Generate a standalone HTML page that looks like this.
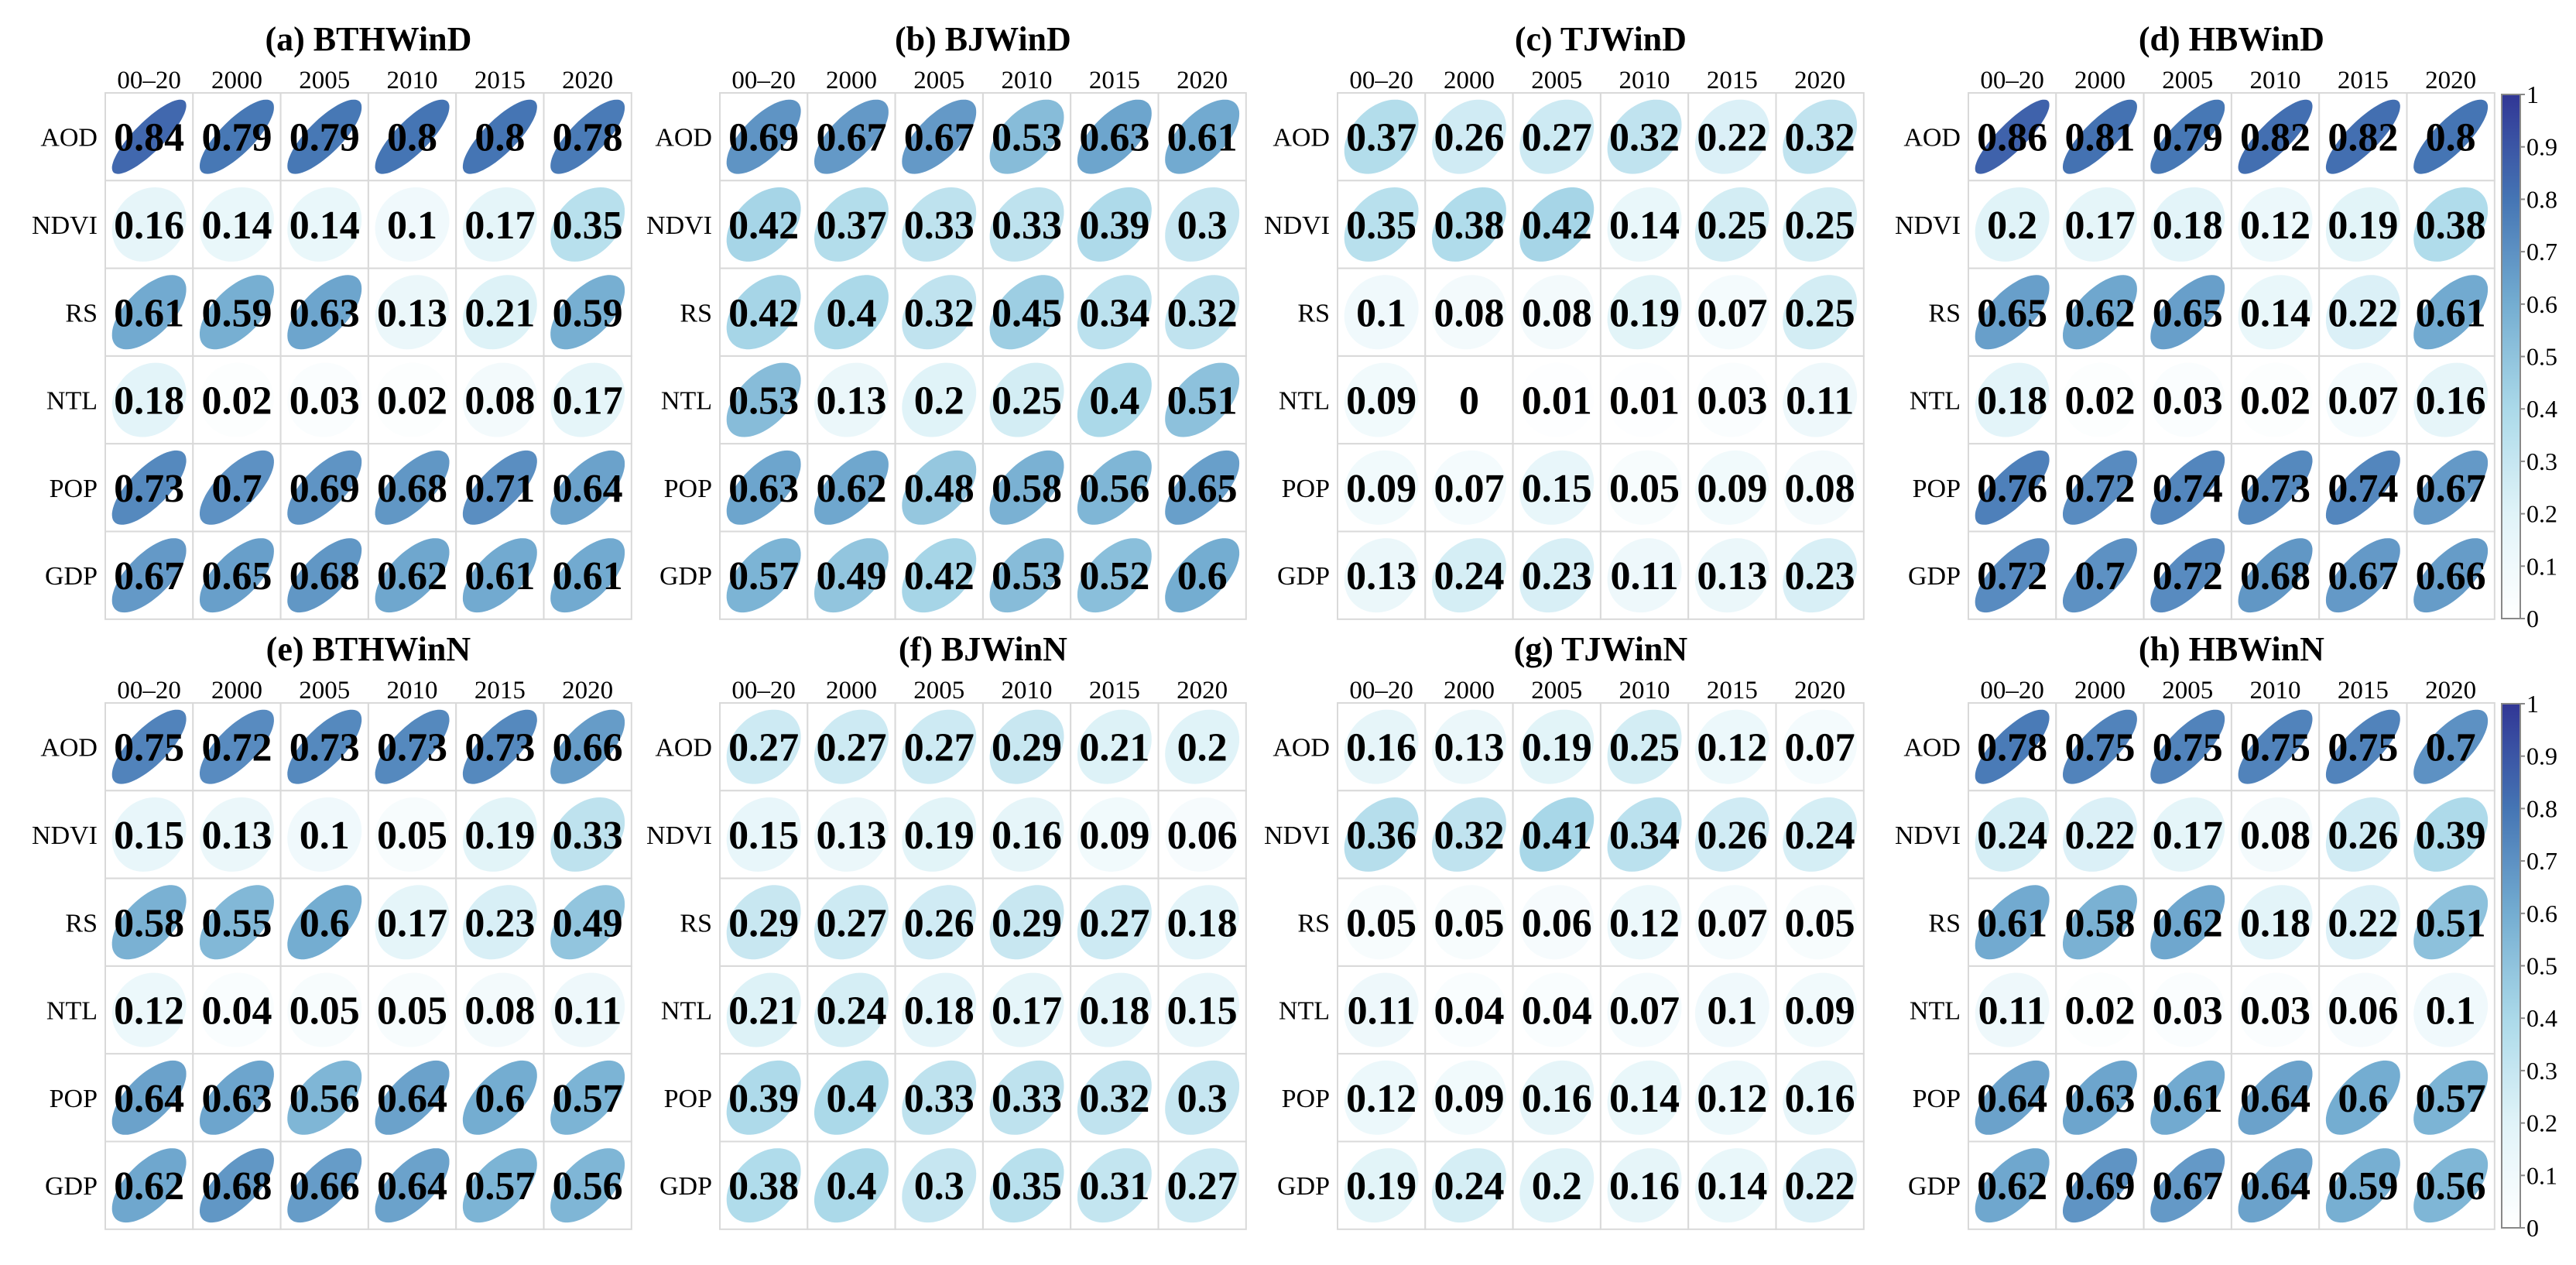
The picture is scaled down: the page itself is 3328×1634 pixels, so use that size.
<!DOCTYPE html>
<html><head><meta charset="utf-8"><style>
html,body{margin:0;padding:0;background:#fff;}
svg{display:block;}
</style></head><body>
<svg id="chart" width="3328" height="1634" viewBox="0 0 3328 1634" xmlns="http://www.w3.org/2000/svg"></svg>
<script>
const rowLabels = ["AOD","NDVI","RS","NTL","POP","GDP"];
const colLabels = ["00\u201320","2000","2005","2010","2015","2020"];
const panelTitles = ["(a) BTHWinD","(b) BJWinD","(c) TJWinD","(d) HBWinD","(e) BTHWinN","(f) BJWinN","(g) TJWinN","(h) HBWinN"];
const colorbarTicks = [0,0.1,0.2,0.3,0.4,0.5,0.6,0.7,0.8,0.9,1];
const valsA = [[.84,.79,.79,.8,.8,.78],[.16,.14,.14,.1,.17,.35],[.61,.59,.63,.13,.21,.59],[.18,.02,.03,.02,.08,.17],[.73,.7,.69,.68,.71,.64],[.67,.65,.68,.62,.61,.61]];
const valsB = [[.69,.67,.67,.53,.63,.61],[.42,.37,.33,.33,.39,.3],[.42,.4,.32,.45,.34,.32],[.53,.13,.2,.25,.4,.51],[.63,.62,.48,.58,.56,.65],[.57,.49,.42,.53,.52,.6]];
const valsC = [[.37,.26,.27,.32,.22,.32],[.35,.38,.42,.14,.25,.25],[.1,.08,.08,.19,.07,.25],[.09,0,.01,.01,.03,.11],[.09,.07,.15,.05,.09,.08],[.13,.24,.23,.11,.13,.23]];
const valsD = [[.86,.81,.79,.82,.82,.8],[.2,.17,.18,.12,.19,.38],[.65,.62,.65,.14,.22,.61],[.18,.02,.03,.02,.07,.16],[.76,.72,.74,.73,.74,.67],[.72,.7,.72,.68,.67,.66]];
const valsE = [[.75,.72,.73,.73,.73,.66],[.15,.13,.1,.05,.19,.33],[.58,.55,.6,.17,.23,.49],[.12,.04,.05,.05,.08,.11],[.64,.63,.56,.64,.6,.57],[.62,.68,.66,.64,.57,.56]];
const valsF = [[.27,.27,.27,.29,.21,.2],[.15,.13,.19,.16,.09,.06],[.29,.27,.26,.29,.27,.18],[.21,.24,.18,.17,.18,.15],[.39,.4,.33,.33,.32,.3],[.38,.4,.3,.35,.31,.27]];
const valsG = [[.16,.13,.19,.25,.12,.07],[.36,.32,.41,.34,.26,.24],[.05,.05,.06,.12,.07,.05],[.11,.04,.04,.07,.1,.09],[.12,.09,.16,.14,.12,.16],[.19,.24,.2,.16,.14,.22]];
const valsH = [[.78,.75,.75,.75,.75,.7],[.24,.22,.17,.08,.26,.39],[.61,.58,.62,.18,.22,.51],[.11,.02,.03,.03,.06,.1],[.64,.63,.61,.64,.6,.57],[.62,.69,.67,.64,.59,.56]];
const allVals = [valsA,valsB,valsC,valsD,valsE,valsF,valsG,valsH];

const NS = "http://www.w3.org/2000/svg";
const svg = document.getElementById("chart");
const stops = [[0,[255,255,255]],[0.2,[224,243,248]],[0.4,[171,217,233]],[0.6,[116,173,209]],[0.8,[69,117,180]],[1,[49,54,149]]];
function color(v){
  v=Math.max(0,Math.min(1,v));
  for(let i=1;i<stops.length;i++){
    if(v<=stops[i][0]){
      const a=stops[i-1],b=stops[i],t=(v-a[0])/(b[0]-a[0]);
      const c=a[1].map((x,k)=>Math.round(x+(b[1][k]-x)*t));
      return `rgb(${c[0]},${c[1]},${c[2]})`;
    }
  }
  return "rgb(49,54,149)";
}
function mk(tag,attrs,parent){const e=document.createElementNS(NS,tag);for(const k in attrs)e.setAttribute(k,attrs[k]);(parent||svg).appendChild(e);return e;}

const panelX = [136,930,1728,2543];
const panelY = [120,908];
const cell = 113.3;
const xScale = (px,j)=>px+j*cell;
const yScale = (py,i)=>py+i*cell;

allVals.forEach((vals,p)=>{
  const px=panelX[p%4], py=panelY[Math.floor(p/4)];
  const g=mk("g",{});
  
  
  const t=mk("text",{x:px+3*cell,y:py-70+15,"text-anchor":"middle","font-family":"Liberation Serif, serif","font-weight":"bold","font-size":"44"},g);
  t.textContent=panelTitles[p];
  
  
  colLabels.forEach((c,j)=>{
    const e=mk("text",{x:xScale(px,j)+cell/2,y:py-6,"text-anchor":"middle","font-family":"Liberation Serif, serif","font-size":"33"},g);
    e.textContent=c;
    
    
  });
  rowLabels.forEach((r,i)=>{
    const e=mk("text",{x:px-10,y:yScale(py,i)+cell/2+12,"text-anchor":"end","font-family":"Liberation Serif, serif","font-size":"34"},g);
    e.textContent=r;
    
    
  });
  vals.forEach((row,i)=>row.forEach((v,j)=>{
    const x0=xScale(px,j), y0=yScale(py,i);
    const rc=mk("rect",{x:x0,y:y0,width:cell,height:cell,fill:"#fff",stroke:"#d9d9d9","stroke-width":"2"},g);
    
    
    const cx=x0+cell/2, cy=y0+cell/2, s=48, d=Math.acos(Math.max(-1,Math.min(1,v)));
    let pts=[];
    for(let k=0;k<72;k++){const tt=k/72*2*Math.PI;pts.push((cx+s*Math.cos(tt+d/2)).toFixed(1)+","+(cy-s*Math.cos(tt-d/2)).toFixed(1));}
    const el=mk("polygon",{points:pts.join(" "),fill:color(v)},g);
    
    
    const tx=mk("text",{x:cx,y:cy+18,"text-anchor":"middle","font-family":"Liberation Serif, serif","font-weight":"bold","font-size":"52"},g);
    tx.textContent=String(v);
    
    
  }));
});

// colorbars
const defs=mk("defs",{});
const lg=mk("linearGradient",{id:"cb",x1:"0",y1:"1",x2:"0",y2:"0"},defs);
for(let k=0;k<=20;k++){mk("stop",{offset:k/20,"stop-color":color(k/20)},lg);}
[[122,799],[909,1586]].forEach(([top,bot],b)=>{
  const g=mk("g",{});
  
  
  const r=mk("rect",{x:3232,y:top,width:24,height:bot-top,fill:"url(#cb)",stroke:"#888","stroke-width":"2"},g);
  
  
  colorbarTicks.forEach(v=>{
    const y=bot-v*(bot-top);
    mk("line",{x1:3256,x2:3262,y1:y,y2:y,stroke:"#888","stroke-width":"2"},g);
    const t=mk("text",{x:3264,y:y+11,"font-family":"Liberation Serif, serif","font-size":"32"},g);
    t.textContent=String(v);
    
    
  });
});
</script>
</body></html>
